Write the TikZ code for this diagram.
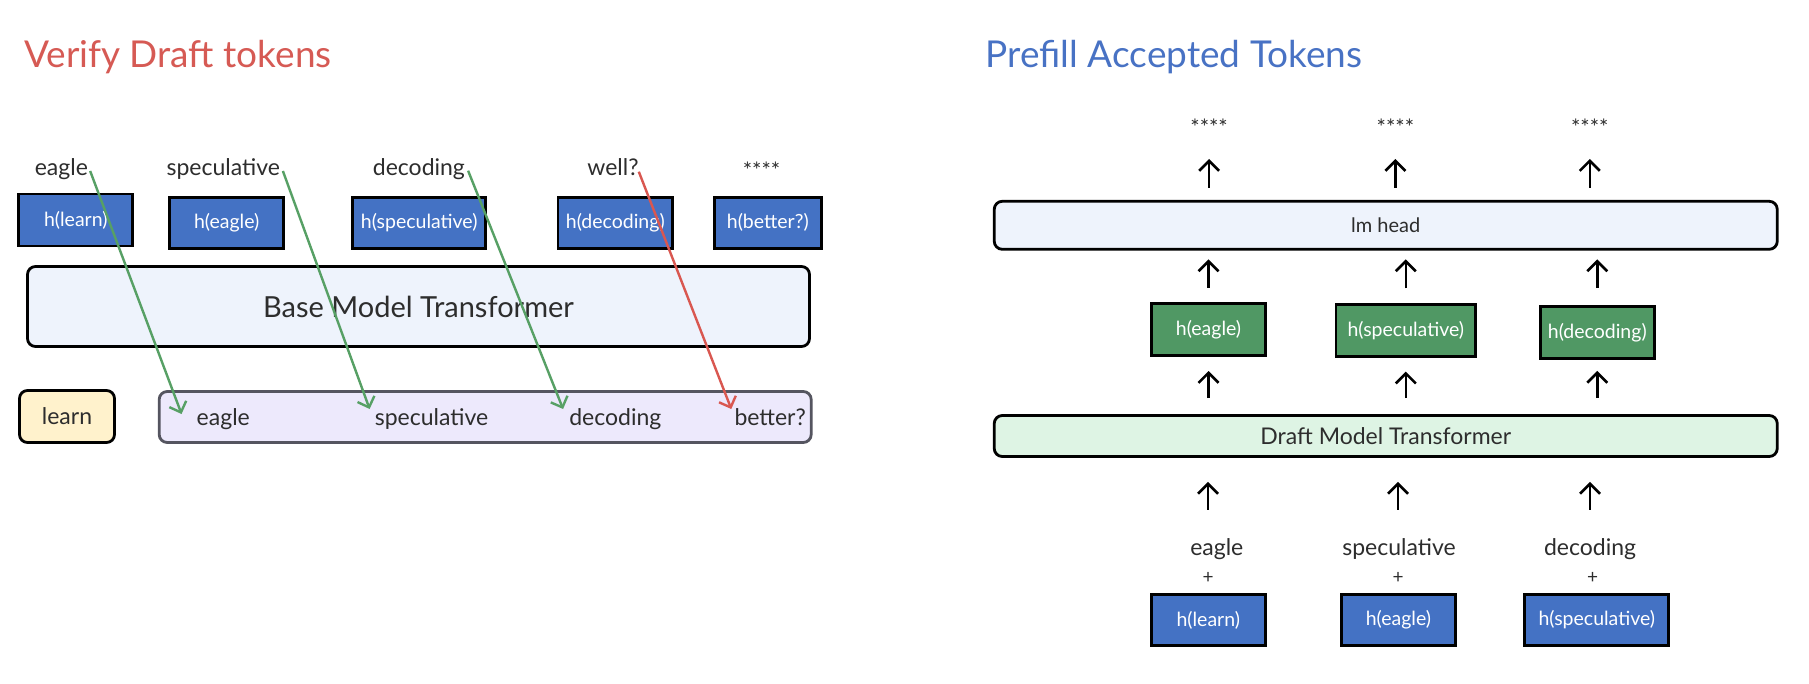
\documentclass[tikz,border=0pt]{standalone}
\usepackage{fontspec}
\setmainfont{Lato}
\usetikzlibrary{arrows.meta,calc}
\definecolor{titlered}{RGB}{214,90,84}
\definecolor{titleblue}{RGB}{72,114,196}
\definecolor{hblue}{RGB}{68,114,196}
\definecolor{hgreen}{RGB}{80,152,100}
\definecolor{basefill}{RGB}{238,243,252}
\definecolor{draftfill}{RGB}{222,244,228}
\definecolor{learnfill}{RGB}{255,242,204}
\definecolor{purplefill}{RGB}{237,233,252}
\definecolor{purpleline}{RGB}{85,85,96}
\definecolor{okgreen}{RGB}{87,160,101}
\definecolor{badred}{RGB}{217,87,80}
\definecolor{txt}{RGB}{45,45,45}
\newcommand{\fsz}[1]{\fontsize{#1pt}{#1pt}\selectfont}
\begin{document}
\begin{tikzpicture}[x=1pt,y=-1pt,
  hbox/.style={draw=black, line width=2.8pt, text=white, font=\fsz{19.5}, inner sep=0pt, minimum height=51pt},
  bluebox/.style={hbox, fill=hblue},
  greenbox/.style={hbox, fill=hgreen},
  layer/.style={draw=black, line width=2.8pt, rounded corners=8pt, inner sep=0pt, text=txt},
  word/.style={text=txt, font=\fsz{23}, inner sep=0pt, anchor=base},
  stars/.style={text=txt, font=\fsz{22}, inner sep=0pt, anchor=base},
  title/.style={font=\fsz{37}, inner sep=0pt, anchor=base west},
  okarrow/.style={draw=okgreen, line width=2.4pt, -{Straight Barb[length=9pt,width=18pt]}},
  badarrow/.style={draw=badred, line width=2.4pt, -{Straight Barb[length=9pt,width=18pt]}},
  uparr/.style={draw=black, line width=2.6pt, -{Straight Barb[length=10pt,width=20pt]}}
]
\useasboundingbox[fill=white] (0,0) rectangle (1809,684);

% ---------------- Left: Verify Draft tokens ----------------
\node[title, text=titlered] (tl) at (24,68) {Verify Draft tokens};

\node[word] (te) at (61.4,175.7) {eagle};
\node[word] (ts) at (223.3,175.7) {speculative};
\node[word] (td) at (418.9,175.7) {decoding};
\node[word] (tw) at (613,175.7) {well?};
\node[stars] (tst) at (761.5,179) {****};

\node[bluebox, minimum width=114pt, minimum height=52pt] (hl1) at (75.8,220) {h(learn)};
\node[bluebox, minimum width=114pt] (hl2) at (226.7,222.7) {h(eagle)};
\node[bluebox, minimum width=133pt] (hl3) at (419.2,222.7) {h(speculative)};
\node[bluebox, minimum width=114.5pt] (hl4) at (615.3,222.7) {h(decoding)};
\node[bluebox, minimum width=107pt] (hl5) at (767.8,222.7) {h(better?)};

\node[layer, fill=basefill, minimum width=782pt, minimum height=80pt, font=\fsz{29}] (base) at (418.5,306.5) {Base Model Transformer};

\node[layer, fill=learnfill, minimum width=95pt, minimum height=52pt, font=\fsz{23}] (learn) at (67,416.5) {learn};
\node[layer, draw=purpleline, fill=purplefill, minimum width=652pt, minimum height=51pt] (pbox) at (485.2,417) {};

\node[word] (pe) at (223.3,425) {eagle};
\node[word] (ps) at (431.5,425) {speculative};
\node[word] (pd) at (615.3,425) {decoding};
\node[word] (pb) at (770.2,425) {better?};

\draw[okarrow] ($(te.base east)+(2,-4.7)$) -- ($(pe.base west)+(-15,-11)$);
\draw[okarrow] ($(ts.base east)+(2.7,-4.7)$) -- ($(ps.base west)+(-5,-16)$);
\draw[okarrow] ($(td.base east)+(3,-5)$) -- ($(pd.base west)+(-6,-16)$);
\draw[badarrow] ($(tw.base east)+(0,-4)$) -- ($(pb.base west)+(-3,-16)$);

% ---------------- Right: Prefill Accepted Tokens ----------------
\node[title, text=titleblue] (tr) at (985.6,67.6) {Prefill Accepted Tokens};

\node[stars] (s1) at (1209.1,136) {****};
\node[stars] (s2) at (1395.4,136) {****};
\node[stars] (s3) at (1589.8,136) {****};

\node[layer, fill=basefill, minimum width=783pt, minimum height=48pt, font=\fsz{20}] (lm) at (1385.75,225.3) {lm head};

\node[greenbox, minimum width=114.5pt, minimum height=52pt] (g1) at (1208.5,329.8) {h(eagle)};
\node[greenbox, minimum width=139.5pt, minimum height=52pt] (g2) at (1405.8,330.4) {h(speculative)};
\node[greenbox, minimum width=114pt, minimum height=52pt] (g3) at (1597.3,332.5) {h(decoding)};

\node[layer, fill=draftfill, minimum width=783pt, minimum height=41pt, font=\fsz{23}] (draft) at (1385.75,436) {Draft Model Transformer};

\node[word] (w1) at (1216.8,555) {eagle};
\node[word] (w2) at (1399,555) {speculative};
\node[word] (w3) at (1590,555) {decoding};

\node[word, font=\fsz{19}] (p1) at (1208,583) {+};
\node[word, font=\fsz{19}] (p2) at (1398,583) {+};
\node[word, font=\fsz{19}] (p3) at (1592.6,583) {+};

\node[bluebox, minimum width=114pt] (b1) at (1208.3,620) {h(learn)};
\node[bluebox, minimum width=114pt] (b2) at (1398.4,620) {h(eagle)};
\node[bluebox, minimum width=144pt] (b3) at (1596.8,620) {h(speculative)};

% arrows: lm head -> stars
\draw[uparr] ($(lm.north -| s1)+(0,-12.2)$) -- ($(s1.base)+(0,23)$);
\draw[uparr] ($(lm.north -| s2)+(0,-12.2)$) -- ($(s2.base)+(0,23)$);
\draw[uparr] ($(lm.north -| s3)+(0,-12.2)$) -- ($(s3.base)+(0,23)$);
% green -> lm head
\draw[uparr, shorten <=14.5pt, shorten >=8.7pt] (g1.north) -- (g1.north |- lm.south);
\draw[uparr, shorten <=14.5pt, shorten >=8.7pt] (g2.north) -- (g2.north |- lm.south);
\draw[uparr, shorten <=17pt, shorten >=8.7pt] (g3.north) -- (g3.north |- lm.south);
% draft -> green
\draw[uparr, shorten <=16pt, shorten >=13.8pt] (g1.south |- draft.north) -- (g1.south);
\draw[uparr, shorten <=16pt, shorten >=13.8pt] (g2.south |- draft.north) -- (g2.south);
\draw[uparr, shorten <=16pt, shorten >=11pt] (g3.south |- draft.north) -- (g3.south);
% inputs -> draft
\draw[uparr, shorten >=24pt] ($(p1.base)+(0,-73.5)$) -- (p1.base |- draft.south);
\draw[uparr, shorten >=24pt] ($(p2.base)+(0,-73.5)$) -- (p2.base |- draft.south);
\draw[uparr, shorten >=24pt] ($(w3.base)+(0,-45.5)$) -- (w3.base |- draft.south);
\end{tikzpicture}
\end{document}
